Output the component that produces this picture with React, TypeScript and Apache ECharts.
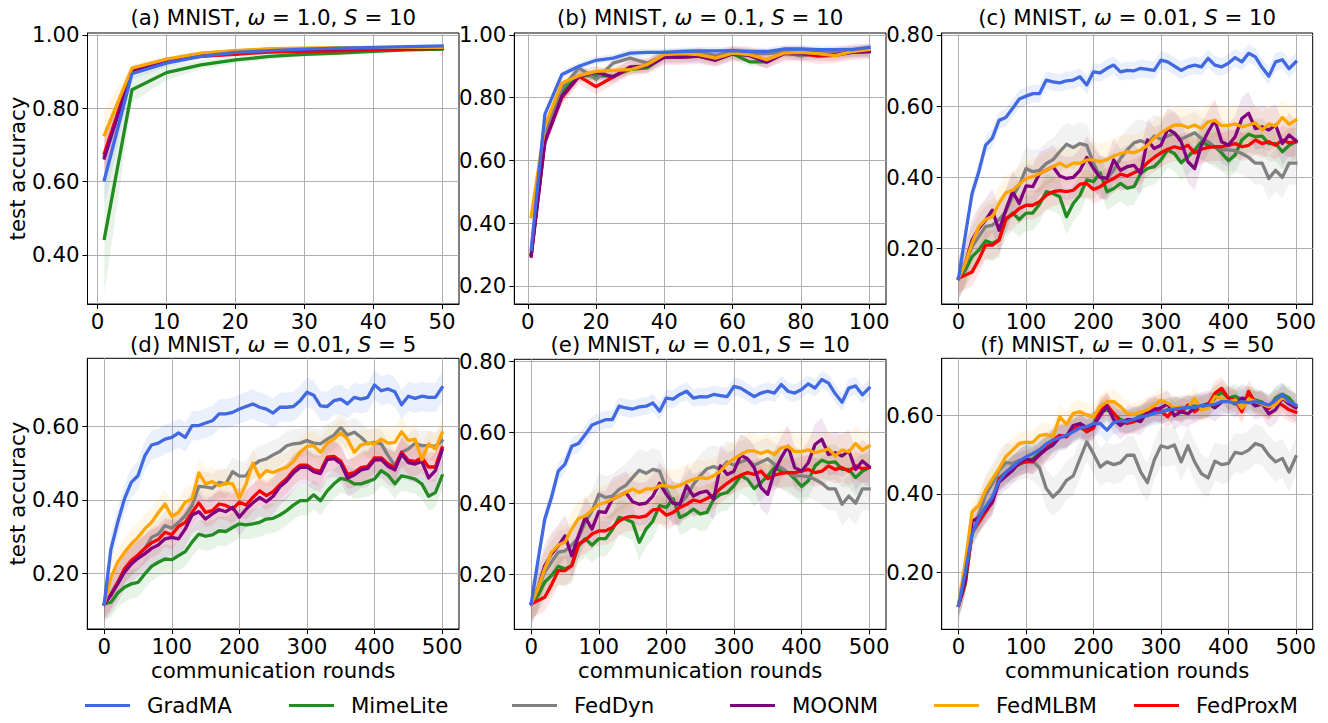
import React, { useEffect, useRef } from "react";
import * as echarts from "echarts";

const FONT = "DejaVu Sans";
const FS = 21.3;

const methods = ["GradMA", "MimeLite", "FedDyn", "MOONM", "FedMLBM", "FedProxM"];
const lineColors = ["#4169e1", "#228b22", "#808080", "#800080", "#ffa500", "#ff0000"];
const bandColors = [
  "rgba(65,105,225,0.11)",
  "rgba(34,139,34,0.1)",
  "rgba(128,128,128,0.1)",
  "rgba(128,0,128,0.1)",
  "rgba(255,165,0,0.1)",
  "rgba(255,0,0,0.1)",
];
const drawOrder = [1, 2, 5, 3, 4, 0];
const legendLeft = [85, 289, 512, 730, 934, 1134];

// x samples
const roundsA = [1, 5, 10, 15, 20, 25, 30, 35, 40, 45, 50];
const roundsB = [1, 5, 10, 15, 20, 25, 30, 35, 40, 45, 50, 55, 60, 65, 70, 75, 80, 85, 90, 95, 100];
const rounds500 = [0, 10, 20, 30, 40, 50, 60, 70, 80, 90, 100, 110, 120, 130, 140, 150, 160, 170, 180, 190, 200, 210, 220, 230, 240, 250, 260, 270, 280, 290, 300, 310, 320, 330, 340, 350, 360, 370, 380, 390, 400, 410, 420, 430, 440, 450, 460, 470, 480, 490, 500];

// tick labels
const xTicksA = [0, 10, 20, 30, 40, 50];
const xTicksB = [0, 20, 40, 60, 80, 100];
const xTicks500 = [0, 100, 200, 300, 400, 500];
const yTicksA = [0.4, 0.6, 0.8, 1.0];
const yTicksB = [0.2, 0.4, 0.6, 0.8, 1.0];
const yTicksC = [0.2, 0.4, 0.6, 0.8];
const yTicksD = [0.2, 0.4, 0.6];
const yTicksF = [0.2, 0.4, 0.6];

// (a) MNIST, w=1.0, S=10
const a_GradMA = [0.605, 0.894, 0.923, 0.941, 0.952, 0.957, 0.961, 0.964, 0.966, 0.968, 0.970];
const a_MimeLite = [0.445, 0.850, 0.897, 0.918, 0.932, 0.941, 0.947, 0.950, 0.955, 0.959, 0.961];
const a_FedDyn = [0.670, 0.905, 0.931, 0.948, 0.956, 0.960, 0.962, 0.963, 0.964, 0.965, 0.965];
const a_MOONM = [0.664, 0.903, 0.930, 0.947, 0.955, 0.959, 0.961, 0.962, 0.963, 0.964, 0.964];
const a_FedMLBM = [0.727, 0.909, 0.934, 0.950, 0.957, 0.962, 0.964, 0.965, 0.965, 0.966, 0.966];
const a_FedProxM = [0.677, 0.903, 0.929, 0.941, 0.947, 0.953, 0.955, 0.956, 0.959, 0.961, 0.963];
const aS_GradMA = [0.07, 0.015, 0.01, 0.006, 0.005, 0.004, 0.004, 0.004, 0.003, 0.003, 0.003];
const aS_MimeLite = [0.15, 0.035, 0.02, 0.012, 0.01, 0.008, 0.006, 0.006, 0.005, 0.005, 0.005];
const aS_FedDyn = [0.05, 0.01, 0.006, 0.005, 0.004, 0.004, 0.003, 0.003, 0.003, 0.003, 0.003];
const aS_MOONM = [0.05, 0.01, 0.006, 0.005, 0.004, 0.004, 0.003, 0.003, 0.003, 0.003, 0.003];
const aS_FedMLBM = [0.07, 0.01, 0.006, 0.005, 0.004, 0.004, 0.003, 0.003, 0.003, 0.003, 0.003];
const aS_FedProxM = [0.05, 0.01, 0.006, 0.005, 0.004, 0.004, 0.003, 0.003, 0.003, 0.003, 0.003];

// (b) MNIST, w=0.1, S=10
const b_GradMA = [0.316, 0.747, 0.874, 0.900, 0.919, 0.926, 0.942, 0.944, 0.944, 0.947, 0.949, 0.949, 0.950, 0.947, 0.947, 0.955, 0.955, 0.953, 0.953, 0.953, 0.960];
const b_MimeLite = [0.300, 0.670, 0.820, 0.870, 0.870, 0.868, 0.890, 0.895, 0.930, 0.930, 0.932, 0.922, 0.940, 0.914, 0.914, 0.945, 0.945, 0.945, 0.940, 0.945, 0.947];
const b_FedDyn = [0.300, 0.680, 0.830, 0.895, 0.858, 0.910, 0.926, 0.910, 0.935, 0.940, 0.945, 0.935, 0.945, 0.940, 0.940, 0.945, 0.932, 0.942, 0.945, 0.945, 0.945];
const b_MOONM = [0.295, 0.658, 0.805, 0.868, 0.881, 0.866, 0.898, 0.900, 0.929, 0.929, 0.932, 0.919, 0.940, 0.934, 0.913, 0.940, 0.940, 0.937, 0.937, 0.944, 0.947];
const b_FedMLBM = [0.421, 0.710, 0.847, 0.870, 0.884, 0.887, 0.889, 0.905, 0.937, 0.940, 0.937, 0.926, 0.942, 0.937, 0.921, 0.942, 0.944, 0.940, 0.934, 0.947, 0.953];
const b_FedProxM = [0.300, 0.660, 0.800, 0.868, 0.835, 0.866, 0.895, 0.900, 0.929, 0.929, 0.932, 0.925, 0.940, 0.938, 0.918, 0.940, 0.940, 0.932, 0.935, 0.945, 0.947];
const bSpread = [0.012, 0.015, 0.015, 0.02, 0.015, 0.025];

// (c) and (e) MNIST, w=0.01, S=10
const c_GradMA = [0.117, 0.238, 0.355, 0.416, 0.49, 0.51, 0.56, 0.568, 0.593, 0.62, 0.628, 0.635, 0.635, 0.673, 0.668, 0.665, 0.671, 0.673, 0.682, 0.659, 0.696, 0.693, 0.706, 0.715, 0.696, 0.70, 0.699, 0.706, 0.703, 0.70, 0.729, 0.724, 0.712, 0.70, 0.71, 0.715, 0.71, 0.734, 0.715, 0.71, 0.72, 0.736, 0.724, 0.748, 0.738, 0.708, 0.684, 0.724, 0.73, 0.705, 0.724];
const c_MimeLite = [0.117, 0.14, 0.178, 0.196, 0.222, 0.215, 0.225, 0.28, 0.30, 0.282, 0.30, 0.30, 0.325, 0.36, 0.355, 0.346, 0.29, 0.327, 0.35, 0.393, 0.388, 0.413, 0.36, 0.369, 0.383, 0.37, 0.374, 0.411, 0.425, 0.43, 0.449, 0.477, 0.467, 0.441, 0.458, 0.477, 0.50, 0.49, 0.486, 0.469, 0.447, 0.463, 0.505, 0.521, 0.514, 0.516, 0.495, 0.495, 0.472, 0.49, 0.50];
const c_FedDyn = [0.117, 0.159, 0.206, 0.234, 0.262, 0.266, 0.282, 0.304, 0.346, 0.378, 0.425, 0.416, 0.42, 0.439, 0.45, 0.472, 0.493, 0.484, 0.495, 0.49, 0.44, 0.402, 0.397, 0.42, 0.453, 0.477, 0.497, 0.503, 0.495, 0.516, 0.507, 0.516, 0.523, 0.507, 0.516, 0.525, 0.509, 0.50, 0.486, 0.477, 0.477, 0.475, 0.467, 0.456, 0.44, 0.44, 0.397, 0.42, 0.40, 0.44, 0.44];
const c_MOONM = [0.117, 0.159, 0.224, 0.257, 0.28, 0.308, 0.252, 0.308, 0.36, 0.327, 0.376, 0.374, 0.411, 0.42, 0.43, 0.404, 0.397, 0.40, 0.42, 0.456, 0.425, 0.40, 0.397, 0.449, 0.42, 0.43, 0.434, 0.411, 0.505, 0.481, 0.49, 0.535, 0.525, 0.50, 0.444, 0.425, 0.49, 0.528, 0.56, 0.50, 0.49, 0.514, 0.565, 0.58, 0.537, 0.542, 0.533, 0.547, 0.495, 0.519, 0.503];
const c_FedMLBM = [0.117, 0.159, 0.215, 0.262, 0.282, 0.29, 0.327, 0.357, 0.364, 0.381, 0.397, 0.402, 0.411, 0.42, 0.43, 0.44, 0.43, 0.44, 0.44, 0.449, 0.449, 0.444, 0.45, 0.46, 0.467, 0.472, 0.469, 0.477, 0.49, 0.51, 0.525, 0.537, 0.547, 0.547, 0.54, 0.547, 0.537, 0.556, 0.56, 0.545, 0.545, 0.55, 0.542, 0.547, 0.553, 0.533, 0.55, 0.544, 0.568, 0.549, 0.561];
const c_FedProxM = [0.117, 0.126, 0.135, 0.17, 0.21, 0.21, 0.224, 0.285, 0.296, 0.313, 0.322, 0.322, 0.332, 0.35, 0.36, 0.363, 0.36, 0.364, 0.381, 0.383, 0.366, 0.374, 0.388, 0.397, 0.409, 0.404, 0.413, 0.422, 0.441, 0.456, 0.469, 0.479, 0.486, 0.481, 0.49, 0.469, 0.479, 0.484, 0.486, 0.486, 0.49, 0.495, 0.486, 0.49, 0.505, 0.495, 0.50, 0.49, 0.505, 0.497, 0.50];
const cSpread = [0.025, 0.05, 0.06, 0.06, 0.05, 0.04];

// (d) MNIST, w=0.01, S=5
const d_GradMA = [0.116, 0.266, 0.339, 0.403, 0.448, 0.466, 0.52, 0.55, 0.555, 0.566, 0.571, 0.583, 0.571, 0.603, 0.603, 0.61, 0.616, 0.635, 0.635, 0.639, 0.648, 0.655, 0.662, 0.653, 0.648, 0.637, 0.653, 0.653, 0.655, 0.671, 0.694, 0.686, 0.657, 0.655, 0.671, 0.675, 0.662, 0.68, 0.675, 0.68, 0.714, 0.698, 0.703, 0.695, 0.66, 0.683, 0.677, 0.683, 0.68, 0.68, 0.707];
const d_MimeLite = [0.116, 0.121, 0.146, 0.162, 0.171, 0.175, 0.198, 0.219, 0.23, 0.239, 0.237, 0.248, 0.259, 0.285, 0.307, 0.301, 0.305, 0.316, 0.314, 0.325, 0.335, 0.332, 0.335, 0.339, 0.348, 0.35, 0.359, 0.371, 0.386, 0.398, 0.398, 0.414, 0.398, 0.425, 0.444, 0.459, 0.455, 0.444, 0.444, 0.45, 0.457, 0.48, 0.468, 0.444, 0.466, 0.462, 0.457, 0.444, 0.41, 0.42, 0.466];
const d_FedDyn = [0.116, 0.144, 0.175, 0.212, 0.23, 0.248, 0.266, 0.298, 0.307, 0.33, 0.323, 0.339, 0.357, 0.385, 0.437, 0.436, 0.432, 0.448, 0.444, 0.477, 0.465, 0.466, 0.495, 0.507, 0.512, 0.523, 0.532, 0.548, 0.553, 0.555, 0.562, 0.555, 0.553, 0.566, 0.577, 0.598, 0.577, 0.585, 0.571, 0.553, 0.557, 0.553, 0.521, 0.494, 0.53, 0.539, 0.555, 0.548, 0.548, 0.546, 0.562];
const d_MOONM = [0.116, 0.141, 0.171, 0.203, 0.225, 0.241, 0.253, 0.268, 0.277, 0.294, 0.298, 0.294, 0.321, 0.359, 0.368, 0.348, 0.362, 0.374, 0.368, 0.38, 0.353, 0.375, 0.392, 0.407, 0.395, 0.41, 0.436, 0.452, 0.474, 0.489, 0.49, 0.477, 0.472, 0.51, 0.513, 0.50, 0.46, 0.468, 0.482, 0.486, 0.509, 0.51, 0.492, 0.482, 0.525, 0.502, 0.498, 0.505, 0.46, 0.48, 0.536];
const d_FedMLBM = [0.116, 0.189, 0.23, 0.257, 0.28, 0.298, 0.321, 0.339, 0.365, 0.389, 0.355, 0.366, 0.394, 0.403, 0.474, 0.444, 0.45, 0.439, 0.446, 0.444, 0.405, 0.444, 0.50, 0.462, 0.48, 0.475, 0.483, 0.489, 0.505, 0.53, 0.546, 0.548, 0.53, 0.555, 0.566, 0.583, 0.566, 0.53, 0.55, 0.555, 0.553, 0.566, 0.555, 0.557, 0.586, 0.562, 0.566, 0.51, 0.553, 0.539, 0.583];
const d_FedProxM = [0.116, 0.141, 0.175, 0.212, 0.235, 0.25, 0.268, 0.283, 0.292, 0.312, 0.305, 0.328, 0.339, 0.366, 0.392, 0.366, 0.371, 0.389, 0.385, 0.375, 0.394, 0.386, 0.407, 0.425, 0.412, 0.423, 0.442, 0.458, 0.48, 0.495, 0.495, 0.483, 0.478, 0.517, 0.519, 0.506, 0.47, 0.475, 0.488, 0.492, 0.515, 0.515, 0.498, 0.488, 0.53, 0.508, 0.505, 0.515, 0.49, 0.49, 0.542];
const dSpread = [0.04, 0.04, 0.04, 0.05, 0.04, 0.04];

// (f) MNIST, w=0.01, S=50
const f_GradMA = [0.116, 0.20, 0.298, 0.338, 0.367, 0.392, 0.433, 0.455, 0.469, 0.484, 0.495, 0.503, 0.513, 0.528, 0.538, 0.544, 0.55, 0.559, 0.569, 0.572, 0.58, 0.58, 0.563, 0.583, 0.587, 0.585, 0.591, 0.597, 0.60, 0.606, 0.609, 0.615, 0.617, 0.619, 0.621, 0.621, 0.626, 0.627, 0.629, 0.636, 0.636, 0.632, 0.636, 0.633, 0.636, 0.632, 0.627, 0.64, 0.653, 0.636, 0.627];
const f_MimeLite = [0.116, 0.17, 0.30, 0.33, 0.355, 0.38, 0.44, 0.455, 0.47, 0.475, 0.485, 0.49, 0.505, 0.515, 0.535, 0.545, 0.55, 0.565, 0.57, 0.56, 0.58, 0.61, 0.615, 0.605, 0.59, 0.585, 0.59, 0.60, 0.605, 0.615, 0.61, 0.615, 0.62, 0.615, 0.62, 0.625, 0.62, 0.625, 0.645, 0.66, 0.645, 0.65, 0.64, 0.645, 0.64, 0.635, 0.62, 0.645, 0.655, 0.645, 0.625];
const f_FedDyn = [0.116, 0.20, 0.298, 0.347, 0.397, 0.426, 0.461, 0.48, 0.478, 0.486, 0.49, 0.484, 0.467, 0.414, 0.392, 0.409, 0.435, 0.446, 0.49, 0.533, 0.503, 0.469, 0.482, 0.475, 0.48, 0.499, 0.499, 0.456, 0.429, 0.486, 0.523, 0.518, 0.525, 0.482, 0.523, 0.482, 0.452, 0.441, 0.484, 0.475, 0.478, 0.506, 0.503, 0.512, 0.529, 0.523, 0.499, 0.482, 0.491, 0.456, 0.495];
const f_MOONM = [0.116, 0.18, 0.33, 0.34, 0.36, 0.38, 0.43, 0.445, 0.46, 0.48, 0.49, 0.485, 0.50, 0.515, 0.525, 0.545, 0.548, 0.575, 0.58, 0.57, 0.575, 0.60, 0.625, 0.59, 0.575, 0.59, 0.59, 0.585, 0.61, 0.615, 0.62, 0.63, 0.60, 0.61, 0.605, 0.62, 0.625, 0.63, 0.62, 0.635, 0.64, 0.63, 0.645, 0.64, 0.625, 0.63, 0.605, 0.615, 0.645, 0.63, 0.62];
const f_FedMLBM = [0.116, 0.226, 0.354, 0.371, 0.41, 0.438, 0.465, 0.495, 0.512, 0.529, 0.532, 0.532, 0.549, 0.552, 0.546, 0.597, 0.578, 0.606, 0.61, 0.602, 0.597, 0.623, 0.636, 0.636, 0.623, 0.606, 0.603, 0.61, 0.615, 0.626, 0.64, 0.632, 0.619, 0.623, 0.619, 0.644, 0.615, 0.619, 0.649, 0.644, 0.636, 0.64, 0.619, 0.643, 0.636, 0.629, 0.623, 0.628, 0.646, 0.636, 0.627];
const f_FedProxM = [0.116, 0.174, 0.303, 0.328, 0.354, 0.379, 0.439, 0.45, 0.469, 0.478, 0.482, 0.482, 0.50, 0.516, 0.538, 0.55, 0.546, 0.563, 0.576, 0.559, 0.568, 0.617, 0.627, 0.606, 0.585, 0.58, 0.585, 0.595, 0.608, 0.619, 0.612, 0.597, 0.619, 0.61, 0.627, 0.61, 0.623, 0.627, 0.657, 0.67, 0.644, 0.64, 0.61, 0.662, 0.632, 0.629, 0.619, 0.636, 0.627, 0.615, 0.609];
const fSpread = [0.03, 0.03, 0.05, 0.035, 0.03, 0.03];

type Panel = {
  tag: string;
  omega: string;
  s: string;
  left: number;
  top: number;
  width: number;
  height: number;
  titleY: number;
  xs: number[];
  xMin: number;
  xMax: number;
  xTicks: number[];
  yMin: number;
  yMax: number;
  yTicks: number[];
  means: number[][];
  spreads: (number | number[])[];
  xName: boolean;
  yName: boolean;
};

const panels: Panel[] = [
  {
    tag: "a", omega: "1.0", s: "10", left: 87.5, top: 33, width: 371.5, height: 271, titleY: 17,
    xs: roundsA, xMin: -1.45, xMax: 52.45, xTicks: xTicksA, yMin: 0.266, yMax: 1.005, yTicks: yTicksA,
    means: [a_GradMA, a_MimeLite, a_FedDyn, a_MOONM, a_FedMLBM, a_FedProxM],
    spreads: [aS_GradMA, aS_MimeLite, aS_FedDyn, aS_MOONM, aS_FedMLBM, aS_FedProxM],
    xName: false, yName: true,
  },
  {
    tag: "b", omega: "0.1", s: "10", left: 514.3, top: 33, width: 371.7, height: 271, titleY: 17,
    xs: roundsB, xMin: -3.95, xMax: 104.95, xTicks: xTicksB, yMin: 0.1426, yMax: 1.006, yTicks: yTicksB,
    means: [b_GradMA, b_MimeLite, b_FedDyn, b_MOONM, b_FedMLBM, b_FedProxM],
    spreads: bSpread, xName: false, yName: false,
  },
  {
    tag: "c", omega: "0.01", s: "10", left: 941.7, top: 33, width: 371, height: 271, titleY: 17,
    xs: rounds500, xMin: -25, xMax: 525, xTicks: xTicks500, yMin: 0.045, yMax: 0.805, yTicks: yTicksC,
    means: [c_GradMA, c_MimeLite, c_FedDyn, c_MOONM, c_FedMLBM, c_FedProxM],
    spreads: cSpread, xName: false, yName: false,
  },
  {
    tag: "d", omega: "0.01", s: "5", left: 87.3, top: 358.3, width: 371.7, height: 270.7, titleY: 344,
    xs: rounds500, xMin: -25, xMax: 525, xTicks: xTicks500, yMin: 0.048, yMax: 0.7865, yTicks: yTicksD,
    means: [d_GradMA, d_MimeLite, d_FedDyn, d_MOONM, d_FedMLBM, d_FedProxM],
    spreads: dSpread, xName: true, yName: true,
  },
  {
    tag: "e", omega: "0.01", s: "10", left: 514.3, top: 359.3, width: 371.7, height: 270, titleY: 344,
    xs: rounds500, xMin: -25, xMax: 525, xTicks: xTicks500, yMin: 0.045, yMax: 0.805, yTicks: yTicksC,
    means: [c_GradMA, c_MimeLite, c_FedDyn, c_MOONM, c_FedMLBM, c_FedProxM],
    spreads: cSpread, xName: true, yName: false,
  },
  {
    tag: "f", omega: "0.01", s: "50", left: 941.7, top: 358.3, width: 371, height: 271, titleY: 344,
    xs: rounds500, xMin: -25, xMax: 525, xTicks: xTicks500, yMin: 0.0545, yMax: 0.7465, yTicks: yTicksF,
    means: [f_GradMA, f_MimeLite, f_FedDyn, f_MOONM, f_FedMLBM, f_FedProxM],
    spreads: fSpread, xName: true, yName: false,
  },
];

const textBase = { color: "#000", fontSize: FS, fontFamily: FONT };

function buildOption() {
  const grid = panels.map((p) => ({
    left: p.left,
    top: p.top,
    width: p.width,
    height: p.height,
    show: true,
    borderColor: "#000",
    borderWidth: 1,
    backgroundColor: "transparent",
    containLabel: false,
  }));

  const xAxis = panels.map((p, i) => ({
    type: "value",
    gridIndex: i,
    min: p.xMin,
    max: p.xMax,
    axisLine: { show: true, onZero: false, lineStyle: { color: "#000", width: 1 } },
    axisTick: { show: true, inside: false, length: 5, lineStyle: { color: "#000", width: 1 }, customValues: p.xTicks },
    axisLabel: {
      show: true,
      customValues: p.xTicks,
      margin: 7,
      ...textBase,
      formatter: (v: number) => String(Math.round(v)),
    },
    splitLine: { show: true, lineStyle: { color: "#b0b0b0", width: 1 } },
    name: p.xName ? "communication rounds" : "",
    nameLocation: "middle",
    nameGap: 31,
    nameTextStyle: { ...textBase },
  }));

  const yAxis = panels.map((p, i) => ({
    type: "value",
    gridIndex: i,
    min: p.yMin,
    max: p.yMax,
    axisLine: { show: true, onZero: false, lineStyle: { color: "#000", width: 1 } },
    axisTick: { show: true, inside: false, length: 5, lineStyle: { color: "#000", width: 1 }, customValues: p.yTicks },
    axisLabel: {
      show: true,
      customValues: p.yTicks,
      margin: 8,
      ...textBase,
      formatter: (v: number) => v.toFixed(2),
    },
    splitLine: { show: true, lineStyle: { color: "#b0b0b0", width: 1 } },
    name: p.yName ? "test accuracy" : "",
    nameLocation: "middle",
    nameGap: 58,
    nameTextStyle: { ...textBase },
  }));

  const bandSeries: any[] = [];
  const lineSeries: any[] = [];
  panels.forEach((p, i) => {
    drawOrder.forEach((k) => {
      const mean = p.means[k];
      const sp = p.spreads[k];
      const band = p.xs.map((x, j) => {
        const s = Array.isArray(sp) ? sp[j] : sp;
        return [x, mean[j] - s, mean[j] + s];
      });
      bandSeries.push({
        type: "custom",
        name: methods[k] + " band " + p.tag,
        xAxisIndex: i,
        yAxisIndex: i,
        silent: true,
        z: 1,
        data: band,
        encode: { x: 0, y: [1, 2] },
        renderItem: (params: any, api: any) => {
          if (params.dataIndex !== 0) return null;
          const upper = band.map((d) => api.coord([d[0], d[2]]));
          const lower = band
            .slice()
            .reverse()
            .map((d) => api.coord([d[0], d[1]]));
          return {
            type: "polygon",
            shape: { points: upper.concat(lower) },
            style: { fill: bandColors[k], stroke: "none" },
            silent: true,
          };
        },
      });
      lineSeries.push({
        type: "line",
        name: methods[k],
        xAxisIndex: i,
        yAxisIndex: i,
        data: p.xs.map((x, j) => [x, mean[j]]),
        symbol: "none",
        showSymbol: false,
        color: lineColors[k],
        lineStyle: { color: lineColors[k], width: 3.3, join: "round", cap: "square" },
        itemStyle: { color: lineColors[k] },
        z: 2,
        silent: true,
      });
    });
  });

  const legend = methods.map((m, k) => ({
    data: [m],
    left: legendLeft[k],
    top: 695,
    padding: 0,
    icon: "rect",
    itemWidth: 45,
    itemHeight: 3,
    selectedMode: false,
    textStyle: { ...textBase, padding: [0, 0, 0, 12] },
  }));

  const graphic = panels.map((p) => ({
    type: "text",
    x: p.left + p.width / 2,
    y: p.titleY,
    silent: true,
    style: {
      text: `{n|(${p.tag}) MNIST, }{i|ω}{n| = ${p.omega}, }{i|S}{n| = ${p.s}}`,
      rich: {
        n: { fontSize: FS, fontFamily: FONT, fill: "#000" },
        i: { fontSize: FS, fontFamily: FONT, fontStyle: "italic", fill: "#000" },
      },
      fontSize: FS,
      fontFamily: FONT,
      fill: "#000",
      align: "center",
      verticalAlign: "middle",
    },
  }));

  return {
    animation: false,
    backgroundColor: "#fff",
    textStyle: { fontFamily: FONT },
    grid,
    xAxis,
    yAxis,
    legend,
    graphic,
    series: [...bandSeries, ...lineSeries],
  };
}

export default function App() {
  const ref = useRef<HTMLDivElement>(null);
  useEffect(() => {
    if (!ref.current) return;
    const chart = echarts.init(ref.current, undefined, { renderer: "svg" });
    chart.setOption(buildOption() as any);
    return () => {
      chart.dispose();
    };
  }, []);
  return (
    <div
      ref={ref}
      style={{ position: "fixed", left: 0, top: 0, width: 1328, height: 723, background: "#fff" }}
    />
  );
}
